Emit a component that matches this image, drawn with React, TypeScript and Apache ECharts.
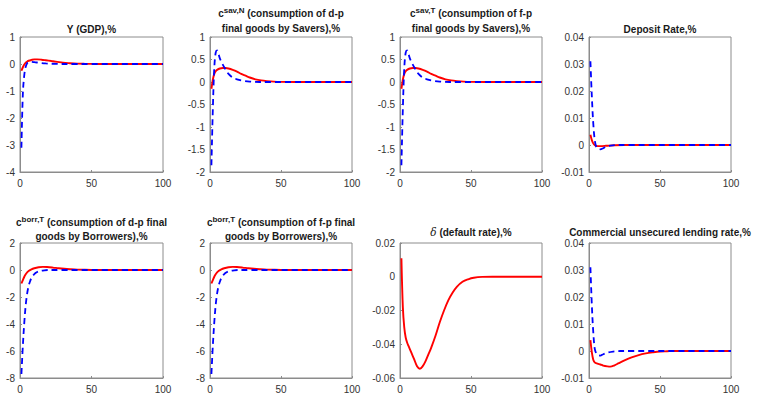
import React, { useEffect, useRef } from "react";
import * as echarts from "echarts";

type P = [number, number];

// Y (GDP)
const gdpRed: P[] = [[1,-0.25],[2,-0.12],[3,-0.02],[4,0.05],[5,0.09],[6,0.12],[8,0.15],[10,0.17],[12,0.17],[15,0.16],[18,0.14],[22,0.11],[26,0.08],[30,0.05],[35,0.03],[40,0.015],[45,0.007],[50,0.003],[60,0],[100,0]];
const gdpBlue: P[] = [[1,-3.1],[2,-1.1],[3,-0.4],[4,-0.1],[5,0.03],[6,0.07],[8,0.08],[10,0.07],[14,0.04],[18,0.02],[25,0.005],[30,0],[100,0]];
// c sav,N and c sav,T
const csavRed: P[] = [[1,-0.15],[2,0.05],[3,0.18],[4,0.24],[5,0.27],[7,0.3],[9,0.31],[11,0.31],[13,0.3],[16,0.27],[19,0.23],[22,0.18],[25,0.14],[28,0.1],[32,0.06],[36,0.035],[40,0.02],[45,0.008],[50,0.003],[60,0],[100,0]];
const csavBlue: P[] = [[1,-1.85],[2,-0.6],[3,0.3],[4,0.65],[5,0.7],[6,0.62],[7,0.52],[8,0.45],[10,0.33],[12,0.22],[14,0.15],[16,0.1],[19,0.06],[23,0.03],[28,0.01],[35,0],[100,0]];
// Deposit rate
const depRed: P[] = [[1,0.0038],[2,0.0018],[3,0.0006],[4,0],[5,-0.0003],[8,-0.0004],[12,-0.0003],[18,-0.0001],[25,0],[100,0]];
const depBlue: P[] = [[1,0.031],[2,0.018],[3,0.008],[4,0.002],[5,-0.0005],[6,-0.0012],[8,-0.0016],[10,-0.0012],[12,-0.0006],[15,-0.0002],[20,0],[100,0]];
// c borr
const cborrRed: P[] = [[1,-1.0],[2,-0.75],[3,-0.5],[4,-0.32],[5,-0.18],[6,-0.08],[8,0.05],[10,0.13],[13,0.2],[16,0.23],[19,0.22],[23,0.18],[27,0.13],[31,0.09],[35,0.06],[40,0.03],[45,0.015],[50,0.005],[60,0],[100,0]];
const cborrBlue: P[] = [[1,-7.7],[2,-5.6],[3,-3.9],[4,-2.6],[5,-1.75],[6,-1.2],[7,-0.85],[8,-0.6],[10,-0.3],[12,-0.15],[14,-0.07],[17,-0.02],[20,0],[100,0]];
// delta default rate
const deltaRed: P[] = [[1,0.011],[2,-0.018],[3,-0.03],[4,-0.036],[5,-0.039],[6,-0.041],[8,-0.045],[10,-0.049],[12,-0.053],[14,-0.0545],[16,-0.053],[18,-0.05],[20,-0.046],[22,-0.042],[25,-0.035],[28,-0.027],[31,-0.02],[34,-0.014],[37,-0.0095],[40,-0.006],[44,-0.003],[48,-0.0015],[52,-0.0006],[58,-0.0001],[65,0],[100,0]];
// Commercial unsecured lending rate
const lendRed: P[] = [[1,0.004],[2,-0.0005],[3,-0.0032],[4,-0.0042],[6,-0.0047],[8,-0.005],[10,-0.0054],[13,-0.0057],[15,-0.0058],[18,-0.0053],[21,-0.0045],[25,-0.0035],[30,-0.0024],[35,-0.0015],[40,-0.0009],[45,-0.0005],[50,-0.0002],[55,-0.0001],[60,0],[100,0]];
const lendBlue: P[] = [[1,0.031],[2,0.017],[3,0.007],[4,0.001],[5,-0.0008],[6,-0.0014],[8,-0.0017],[10,-0.0012],[13,-0.0006],[17,-0.0002],[22,0],[100,0]];

const titles: string[] = [
  "Y (GDP),%",
  "c{sup|sav,N} (consumption of d-p\nfinal goods by Savers),%",
  "c{sup|sav,T} (consumption of f-p\nfinal goods by Savers),%",
  "Deposit Rate,%",
  "c{sup|borr,T} (consumption of d-p final\ngoods by Borrowers),%",
  "c{sup|borr,T} (consumption of f-p final\ngoods by Borrowers),%",
  "{it|δ} (default rate),%",
  "Commercial unsecured lending rate,%",
];
const yMin = [-4, -2, -2, -0.01, -8, -8, -0.06, -0.01];
const yMax = [1, 1, 1, 0.04, 2, 2, 0.02, 0.04];
const yStep = [1, 0.5, 0.5, 0.01, 2, 2, 0.02, 0.01];
const xTicks = [0, 50, 100];
const redSeries: P[][] = [gdpRed, csavRed, csavRed, depRed, cborrRed, cborrRed, deltaRed, lendRed];
const blueSeries: (P[] | null)[] = [gdpBlue, csavBlue, csavBlue, depBlue, cborrBlue, cborrBlue, null, lendBlue];

export default function App() {
  const ref = useRef<HTMLDivElement>(null);
  useEffect(() => {
    if (!ref.current) return;
    const chart = echarts.init(ref.current, null, { renderer: "svg" });
    const lefts = [20, 210, 400, 589];
    const widths = [143, 142, 142, 142];
    const tops = [37, 243];
    const heights = [135, 137];
    const grids: any[] = [];
    const xAxes: any[] = [];
    const yAxes: any[] = [];
    const series: any[] = [];
    const titleOpts: any[] = [];
    const font = "Liberation Sans, Arial, sans-serif";
    for (let i = 0; i < 8; i++) {
      const r = Math.floor(i / 4);
      const c = i % 4;
      grids.push({
        left: lefts[c], top: tops[r], width: widths[c], height: heights[r],
        show: true, borderColor: "#8c8c8c", borderWidth: 1, backgroundColor: "#fff",
      });
      xAxes.push({
        type: "value", gridIndex: i, min: xTicks[0], max: xTicks[xTicks.length - 1], interval: xTicks[1] - xTicks[0],
        axisLine: { show: true, onZero: false, lineStyle: { color: "#8c8c8c" } },
        axisTick: { show: true, inside: true, length: 2, lineStyle: { color: "#8c8c8c" } },
        splitLine: { show: false },
        axisLabel: { color: "#333", fontSize: 10, fontFamily: font, margin: 6 },
      });
      yAxes.push({
        type: "value", gridIndex: i, min: yMin[i], max: yMax[i], interval: yStep[i],
        axisLine: { show: true, lineStyle: { color: "#8c8c8c" } },
        axisTick: { show: true, inside: true, length: 2, lineStyle: { color: "#8c8c8c" } },
        splitLine: { show: false },
        axisLabel: {
          color: "#333", fontSize: 10, fontFamily: font, margin: 5,
          formatter: (v: number) => String(+v.toFixed(4)),
        },
      });
      series.push({
        type: "line", xAxisIndex: i, yAxisIndex: i, data: redSeries[i], showSymbol: false, symbol: "none",
        smooth: 0.35, lineStyle: { color: "#ff0000", width: 1.9 }, z: 2,
      });
      const b = blueSeries[i];
      if (b) {
        series.push({
          type: "line", xAxisIndex: i, yAxisIndex: i, data: b, showSymbol: false, symbol: "none",
          smooth: 0.35, lineStyle: { color: "#0000ff", width: 1.8, type: [6, 4] }, z: 3,
        });
      }
      const twoLine = titles[i].indexOf("\n") >= 0;
      let top: number;
      let lh: number;
      if (r === 0) { top = twoLine ? 6 : 22; lh = 15; }
      else if (twoLine) { top = 215; lh = 14; }
      else { top = 227; lh = 10; }
      titleOpts.push({
        text: titles[i],
        left: lefts[c] + widths[c] / 2,
        textAlign: "center",
        top,
        padding: 0,
        textStyle: {
          fontSize: 10, fontWeight: "bold", color: "#1a1a1a", fontFamily: font, lineHeight: lh,
          rich: {
            sup: { fontSize: 8, fontWeight: "bold", color: "#1a1a1a", fontFamily: font, verticalAlign: "top", lineHeight: lh, padding: [0, 0, 6, 0] },
            it: { fontSize: 10.5, fontStyle: "italic", fontWeight: "normal", color: "#1a1a1a", fontFamily: "DejaVu Serif, serif", lineHeight: lh },
          },
        },
      });
    }
    chart.setOption({
      animation: false,
      backgroundColor: "#fff",
      title: titleOpts,
      grid: grids,
      xAxis: xAxes,
      yAxis: yAxes,
      series,
    });
    return () => chart.dispose();
  }, []);
  return <div ref={ref} style={{ position: "fixed", left: 0, top: 0, width: 758, height: 394 }} />;
}
